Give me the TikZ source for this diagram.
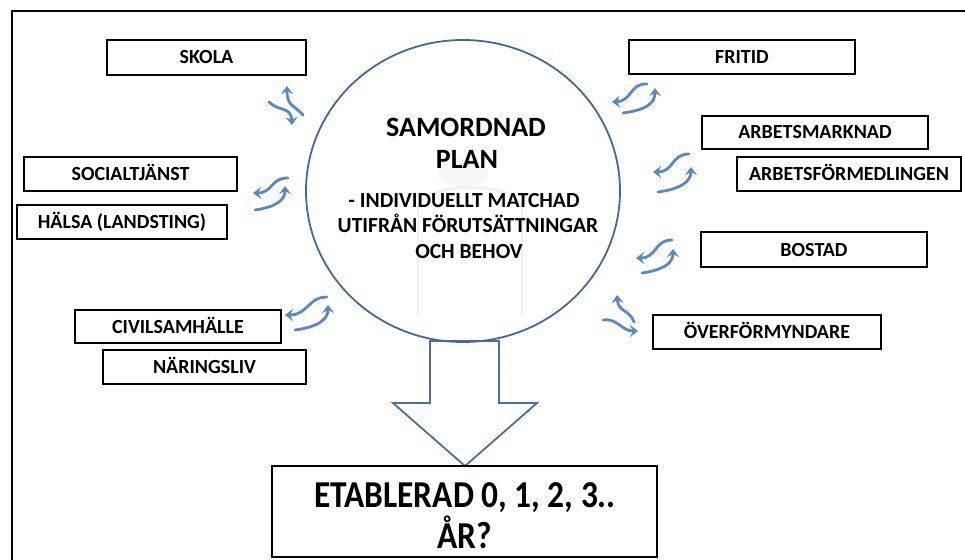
\documentclass[tikz,border=0pt]{standalone}
\usepackage{fontspec}
\usepackage{graphicx}
\setmainfont{Carlito}
\usetikzlibrary{arrows.meta,shapes.geometric}
\definecolor{circblue}{HTML}{41699C}
\definecolor{blockblue}{HTML}{4A6F9E}
\definecolor{arrblue}{HTML}{5689C8}
\tikzset{
  lbl/.style={draw=black, line width=1.7pt, fill=white, inner sep=0pt,
    font=\bfseries\fontsize{20}{23}\selectfont, text height=13pt, text depth=0pt},
  ctext/.style={anchor=base, inner sep=0pt, font=\bfseries\fontsize{28}{32}\selectfont},
  csub/.style={anchor=base, inner sep=0pt, font=\bfseries\fontsize{21.5}{24}\selectfont},
  btext/.style={anchor=base, inner sep=0pt, font=\bfseries\fontsize{38}{42}\selectfont},
  sarr/.style={draw=arrblue, line width=2.8pt, line cap=round,
    -{Stealth[length=8pt,width=12pt,inset=3pt]}},
  ghost/.style={draw=gray!12, line width=2.5pt}
}
\begin{document}
\begin{tikzpicture}[x=1pt,y=-1pt]
\useasboundingbox (0,0) rectangle (965,559);
\fill[white] (0,0) rectangle (965,559);
% outer frame (open to the right and bottom)
\draw[line width=1.7pt] (975,11) -- (12,11) -- (12,575);

% down block arrow
\draw[blockblue, line width=1.8pt, fill=white]
  (430,341) -- (430,403) -- (393,403) -- (465,466) -- (537,403) -- (499,403) -- (499,341) -- cycle;

% central circle
\node[draw=circblue, line width=1.8pt, ellipse, inner sep=0pt,
      minimum width=314pt, minimum height=302pt] (plan) at (463,191) {};

% faint ghost shape inside circle
\fill[gray!6] (463,173) ellipse [x radius=25, y radius=14];
\draw[ghost] (418,315) -- (418,210) .. controls (418,180) and (522,180) .. (522,210) -- (522,315);

% central text
\node[ctext] (t1) at (466,136) {SAMORDNAD};
\node[ctext] (t2) at (467,168) {PLAN};
\node[csub] (t3) at (464,207) {- INDIVIDUELLT MATCHAD};
\node[csub] (t4) at (468,232) {UTIFRÅN FÖRUTSÄTTNINGAR};
\node[csub] (t5) at (469,258) {OCH BEHOV};

% boxes
\node[lbl, minimum width=199pt, minimum height=35pt] (skola) at (206.5,57.5) {SKOLA};
\node[lbl, minimum width=226pt, minimum height=34pt] (fritid) at (742,57) {FRITID};
\node[lbl, minimum width=226pt, minimum height=33pt] (arbm) at (815,132.5) {ARBETSMARKNAD};
\node[lbl, minimum width=224pt, minimum height=34pt] (arbf) at (849,174) {ARBETSFÖRMEDLINGEN};
\node[lbl, minimum width=213pt, minimum height=34pt] (soc) at (130.5,174) {SOCIALTJÄNST};
\node[lbl, minimum width=210pt, minimum height=34pt] (halsa) at (122,222) {HÄLSA (LANDSTING)};
\node[lbl, minimum width=226pt, minimum height=35pt] (bostad) at (814,249.5) {BOSTAD};
\node[lbl, minimum width=228pt, minimum height=34pt] (overf) at (767,332) {ÖVERFÖRMYNDARE};
\node[lbl, minimum width=206pt, minimum height=33pt] (civil) at (178,326.5) {CIVILSAMHÄLLE};
\node[lbl, minimum width=203pt, minimum height=34pt] (naring) at (204.5,367) {NÄRINGSLIV};

% bottom box
\node[draw=black, line width=1.7pt, fill=white, inner sep=0pt,
      minimum width=385pt, minimum height=91pt] (etab) at (464.5,511.5) {};
\node[btext] (e1) at (465,507) {\scalebox{0.88}[1]{ETABLERAD 0, 1, 2, 3..}};
\node[btext] (e2) at (465,548) {\scalebox{0.88}[1]{ÅR?}};

% small curved arrows
% SKOLA
\draw[sarr] (303,115) .. controls (293,104) and (287,106) .. (287,86);
\draw[sarr] (269,102) .. controls (279,112) and (291,106) .. (292,125);
% FRITID
\draw[sarr] (647,84) .. controls (630,83) and (632,101) .. (612,102);
\draw[sarr] (623,113) .. controls (645,110) and (655,104) .. (655,88);
% SOCIALTJANST
\draw[sarr] (288,178) .. controls (270,178) and (273,193) .. (253,193);
\draw[sarr] (255,210) .. controls (275,207) and (285,201) .. (285,186);
% ARBETSMARKNAD
\draw[sarr] (689,154) .. controls (671,154) and (674,172) .. (653,172);
\draw[sarr] (658,192) .. controls (680,189) and (691,182) .. (691,167);
% CIVILSAMHALLE
\draw[sarr] (327,297) .. controls (308,297) and (308,315) .. (285,315);
\draw[sarr] (295,330) .. controls (317,327) and (328,320) .. (328,305);
% BOSTAD
\draw[sarr] (672,240) .. controls (654,240) and (657,258) .. (636,258);
\draw[sarr] (642,273) .. controls (662,270) and (673,264) .. (673,249);
% OVERFORMYNDARE
\draw[sarr] (634,322) .. controls (630,310) and (618,312) .. (617,295);
\draw[sarr] (603,320) .. controls (618,318) and (621,331) .. (638,331);
\end{tikzpicture}
\end{document}
